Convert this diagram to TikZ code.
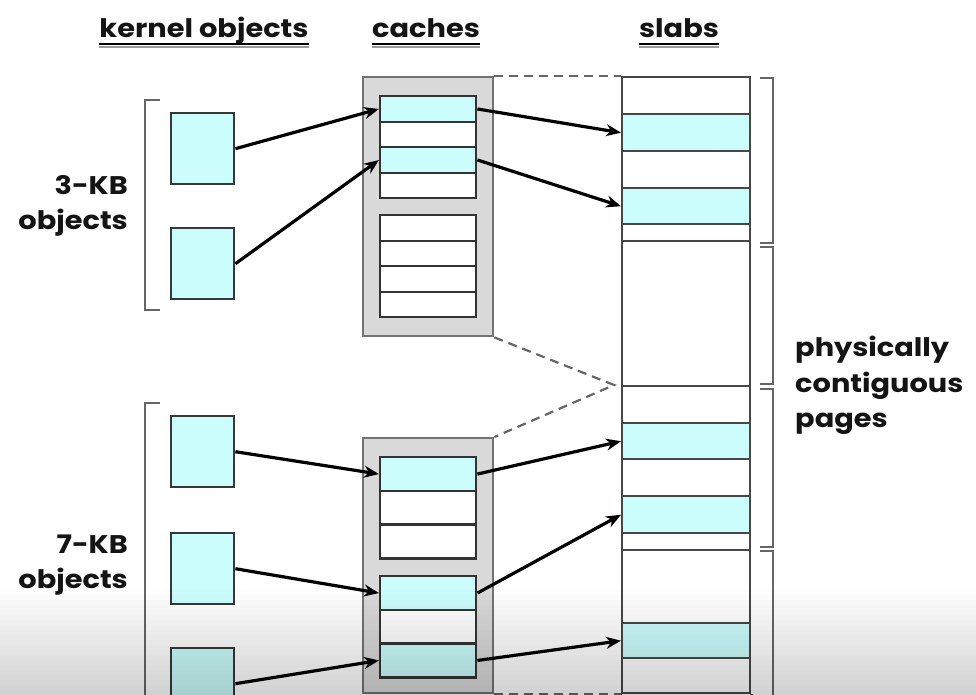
\documentclass[tikz,border=0pt]{standalone}
\usepackage{fontspec}
\setmainfont{Poppins}[FakeStretch=1.13]
\usetikzlibrary{arrows.meta}
\definecolor{cy}{HTML}{CCFDFD}
\definecolor{cachegray}{HTML}{D9D9D9}
\begin{document}
\begin{tikzpicture}[x=1pt,y=-1pt,
  txt/.style={font=\bfseries\fontsize{25.5}{36}\selectfont, text=black!92, inner sep=0pt},
  ul/.style={line width=2.8pt, black},
  ulsh/.style={line width=2pt, black!40},
  obj/.style={draw=black!78, fill=cy, line width=2.4pt, minimum width=63pt, minimum height=71pt, inner sep=0pt, anchor=north west},
  cache/.style={draw=black!55, fill=cachegray, line width=2.4pt, minimum width=130pt, inner sep=0pt, anchor=north west},
  crow/.style={draw=black!80, line width=2.4pt, minimum width=96pt, minimum height=25.5pt, inner sep=0pt, anchor=north west, fill=white},
  crowb/.style={crow, minimum height=33.7pt},
  srow/.style={draw=black!72, line width=2.4pt, minimum width=128pt, inner sep=0pt, anchor=north west, fill=white},
  hot/.style={fill=cy},
  arr/.style={-{Stealth[length=15pt,width=12pt]}, line width=3.2pt, black},
  dsh/.style={dash pattern=on 9pt off 6pt, line width=2.2pt, black!60},
  brk/.style={line width=2.6pt, black!60}]
\useasboundingbox (0,0) rectangle (976,694);
\fill[white] (0,0) rectangle (976,694);

% headers
\node[txt, anchor=base] (hk) at (204,37) {kernel objects};
\node[txt, anchor=base] (hc) at (426,37) {caches};
\node[txt, anchor=base] (hs) at (679,37) {slabs};
\foreach \h in {hk,hc,hs}{
  \draw[ulsh] (\h.west |- 0,47) -- (\h.east |- 0,47);
  \draw[ul] (\h.west |- 0,44) -- (\h.east |- 0,44);
}

% left labels and brackets
\node[txt, anchor=base east] (l3a) at (128,194) {3-KB};
\node[txt, anchor=base east] (l3b) at (128,229) {objects};
\node[txt, anchor=base east] (l7a) at (128,553) {7-KB};
\node[txt, anchor=base east] (l7b) at (128,588) {objects};
\draw[brk] (160,100) -- (145,100) -- (145,310) -- (160,310);
\draw[brk] (160,403) -- (145,403) -- (145,700);

% kernel objects
\node[obj] (o1) at (170,112) {};
\node[obj] (o2) at (170,227) {};
\node[obj] (o3) at (170,415) {};
\node[obj] (o4) at (170,532) {};
\node[obj] (o5) at (170,647) {};

% caches
\node[cache, minimum height=259pt] (cache1) at (362,76) {};
\node[cache, minimum height=255pt] (cache2) at (362,437) {};

\node[crow, hot] (c1a) at (379,95) {};
\node[crow] (c1b) at (379,120.5) {};
\node[crow, hot] (c1c) at (379,146) {};
\node[crow] (c1d) at (379,171.5) {};
\node[crow] (c1e) at (379,214) {};
\node[crow] (c1f) at (379,239.5) {};
\node[crow] (c1g) at (379,265) {};
\node[crow] (c1h) at (379,290.5) {};

\node[crowb, hot] (c2a) at (379,456) {};
\node[crowb] (c2b) at (379,489.7) {};
\node[crowb] (c2c) at (379,523.4) {};
\node[crowb, hot] (c2d) at (379,575) {};
\node[crowb] (c2e) at (379,608.7) {};
\node[crowb, hot] (c2f) at (379,642.4) {};

% slabs column
\node[srow, minimum height=37pt] (s1) at (621,76) {};
\node[srow, hot, minimum height=37pt] (s2) at (621,113) {};
\node[srow, minimum height=37pt] (s3) at (621,150) {};
\node[srow, hot, minimum height=36pt] (s4) at (621,187) {};
\node[srow, minimum height=17pt] (s5) at (621,223) {};
\node[srow, minimum height=145pt] (s6) at (621,240) {};
\node[srow, minimum height=37pt] (s7) at (621,385) {};
\node[srow, hot, minimum height=36pt] (s8) at (621,422) {};
\node[srow, minimum height=37pt] (s9) at (621,458) {};
\node[srow, hot, minimum height=37pt] (s10) at (621,495) {};
\node[srow, minimum height=17pt] (s11) at (621,532) {};
\node[srow, minimum height=73pt] (s12) at (621,549) {};
\node[srow, hot, minimum height=35pt] (s13) at (621,622) {};
\node[srow, minimum height=35pt] (s14) at (621,657) {};
\draw[draw=black!72, line width=2.4pt] (s14.south west) -- ++(0,10);
\draw[draw=black!72, line width=2.4pt] (s14.south east) -- ++(0,10);

% dashed guides
\coordinate (vtip) at (614,385);
\draw[dsh] (cache1.north east) -- (s1.north west);
\draw[dsh] (cache1.south east) -- (vtip) -- (cache2.north east);
\draw[dsh] (cache2.south east) -- (s14.south west);

% arrows
\draw[arr] (o1.east) -- (c1a.west);
\draw[arr] (o2.east) -- (c1c.west);
\draw[arr] (c1a.east) -- (s2.west);
\draw[arr] (c1c.east) -- (s4.west);
\draw[arr] (o3.east) -- (c2a.west);
\draw[arr] (o4.east) -- (c2d.west);
\draw[arr] (o5.east) -- (c2f.west);
\draw[arr] (c2a.east) -- (s8.west);
\draw[arr] (c2d.east) -- (s10.west);
\draw[arr] (c2f.east) -- (s13.west);

% right brackets
\draw[brk] (760,78) -- (773,78) -- (773,243) -- (760,243);
\draw[brk] (760,247) -- (773,247) -- (773,384) -- (760,384);
\draw[brk] (760,389) -- (773,389) -- (773,547) -- (760,547);
\draw[brk] (760,551) -- (773,551) -- (773,700);
\node[txt, anchor=base west] (pg1) at (795,356) {physically};
\node[txt, anchor=base west] (pg2) at (795,392) {contiguous};
\node[txt, anchor=base west] (pg3) at (795,427) {pages};

% bottom darkening of the screenshot
\foreach \i [evaluate=\i as \op using \i*0.0085] in {0,...,22}
  \fill[black, opacity=\op] (0,585+\i*5) rectangle (976,590+\i*5);
\end{tikzpicture}
\end{document}
